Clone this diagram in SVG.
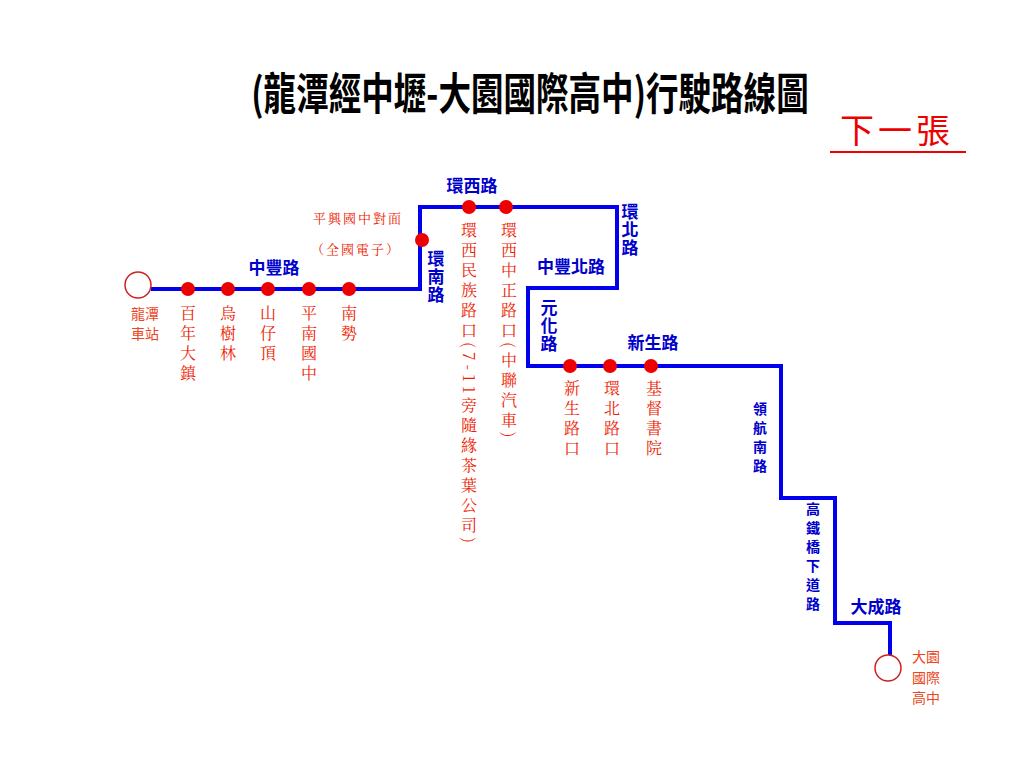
<svg xmlns="http://www.w3.org/2000/svg" width="1024" height="768" viewBox="0 0 1024 768">
<style>
.route{fill:none;stroke:#0000ee;stroke-width:4;stroke-linejoin:miter}
.stop{fill:#ee0000}
.term{fill:#fff;stroke:#cc2222;stroke-width:1.5}
.st{font-family:"Noto Serif CJK SC","Noto Sans CJK TC",serif;font-size:16px;fill:#ee2200;writing-mode:vertical-rl;letter-spacing:4px}
.rd{font-family:"Noto Sans CJK TC",sans-serif;font-size:17px;font-weight:bold;fill:#0000cc}
.rdv{font-family:"Noto Sans CJK TC",sans-serif;font-size:17px;font-weight:bold;fill:#0000cc;writing-mode:vertical-rl;letter-spacing:1px}
.rds{font-family:"Noto Sans CJK TC",sans-serif;font-size:14px;font-weight:bold;fill:#0000cc;writing-mode:vertical-rl;letter-spacing:5px}
.tm{font-family:"Noto Sans CJK TC",sans-serif;font-size:14px;fill:#ee4422}
</style>
<rect width="1024" height="768" fill="#fff"/>
<text x="530" y="110" text-anchor="middle" font-family="'Noto Sans CJK TC',sans-serif" font-size="44" font-weight="bold" transform="translate(530 0) scale(0.74 1) translate(-530 0)">(龍潭經中壢-大園國際高中)行駛路線圖</text>
<text x="897" y="143" text-anchor="middle" font-family="'Noto Sans CJK TC',sans-serif" font-size="34" fill="#ee0000" letter-spacing="4">下一張</text>
<line x1="830" y1="152" x2="966" y2="152" stroke="#ee0000" stroke-width="2"/>
<g id="connectors">
<polyline class="route" points="151,289 420,289 420,207 617,207 617,288 528,288 528,366 781,366 781,498 835,498 835,623 890,623 890,656"/>
</g>
<g id="start"><circle class="term" cx="138" cy="285" r="13"/><text class="tm" x="145" y="319" text-anchor="middle">龍潭</text><text class="tm" x="145" y="339" text-anchor="middle">車站</text></g>
<g id="end"><circle class="term" cx="888" cy="668" r="13"/><text class="tm" x="926" y="662" text-anchor="middle">大園</text><text class="tm" x="926" y="683" text-anchor="middle">國際</text><text class="tm" x="926" y="703" text-anchor="middle">高中</text></g>
<g id="stops">
<circle class="stop" cx="188" cy="289" r="7"/><circle class="stop" cx="228" cy="289" r="7"/><circle class="stop" cx="268" cy="289" r="7"/><circle class="stop" cx="309" cy="289" r="7"/><circle class="stop" cx="349" cy="289" r="7"/>
<circle class="stop" cx="422" cy="240" r="7"/><circle class="stop" cx="469" cy="207" r="7"/><circle class="stop" cx="506" cy="207" r="7"/>
<circle class="stop" cx="570" cy="366" r="7"/><circle class="stop" cx="610" cy="366" r="7"/><circle class="stop" cx="651" cy="366" r="7"/>
</g>
<g id="stop-labels">
<text class="st" x="188" y="305">百年大鎮</text>
<text class="st" x="228" y="305">烏樹林</text>
<text class="st" x="268" y="305">山仔頂</text>
<text class="st" x="309" y="305">平南國中</text>
<text class="st" x="349" y="305">南勢</text>
<text class="st" x="469" y="222">環西民族路口(7-11旁隨緣茶葉公司)</text>
<text class="st" x="509" y="222">環西中正路口(中聯汽車)</text>
<text class="st" x="572" y="380">新生路口</text>
<text class="st" x="612" y="380">環北路口</text>
<text class="st" x="654" y="380">基督書院</text>
<text x="358" y="223" text-anchor="middle" font-family="'Noto Serif CJK SC',serif" font-size="13" fill="#ee2200" letter-spacing="2">平興國中對面</text>
<text x="356" y="254" text-anchor="middle" font-family="'Noto Serif CJK SC',serif" font-size="13" fill="#ee2200" letter-spacing="2">（全國電子）</text>
</g>
<g id="road-labels">
<text class="rd" x="274" y="274" text-anchor="middle">中豐路</text>
<text class="rd" x="472" y="192" text-anchor="middle">環西路</text>
<text class="rdv" x="436" y="250">環南路</text>
<text class="rdv" x="630" y="203">環北路</text>
<text class="rd" x="571" y="273" text-anchor="middle">中豐北路</text>
<text class="rdv" x="549" y="299">元化路</text>
<text class="rd" x="653" y="349" text-anchor="middle">新生路</text>
<text class="rds" x="760" y="402">領航南路</text>
<text class="rds" x="813" y="502">高鐵橋下道路</text>
<text class="rd" x="876" y="613" text-anchor="middle">大成路</text>
</g>
</svg>
